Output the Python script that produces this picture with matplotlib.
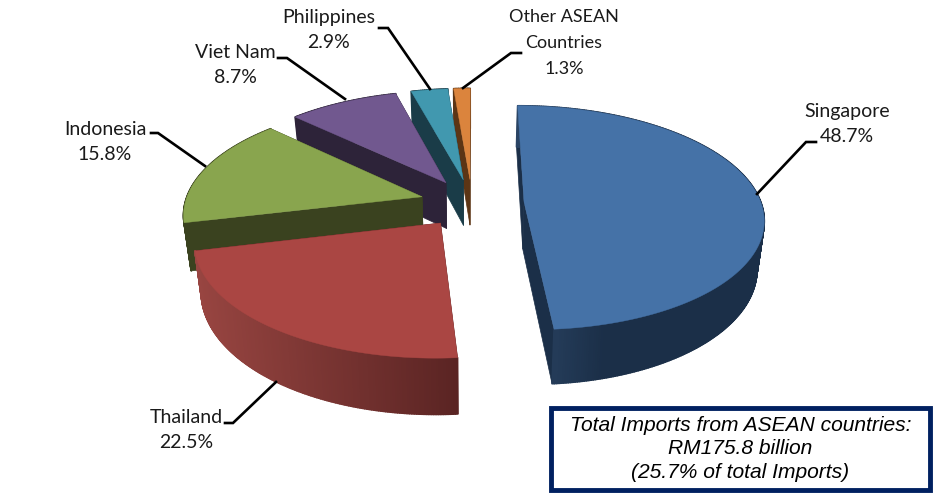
import numpy as np
import matplotlib
matplotlib.use('Agg')
import matplotlib.pyplot as plt
from matplotlib.colors import to_rgb
from matplotlib.patches import Rectangle

# data
countries = ['Singapore', 'Thailand', 'Indonesia', 'Viet Nam', 'Philippines', 'Other ASEAN\nCountries']
shares = [48.7, 22.5, 15.8, 8.7, 2.9, 1.3]

top_colors = ['#4572A7', '#AA4643', '#89A54E', '#71588F', '#4198AF', '#DB843D']
side_colors = ['#1B2F48', '#5A2423', '#3A421F', '#2D2339', '#1A3C48', '#5C3515']
lit_colors = ['#2B4565', '#984541', '#3A421F', '#2D2339', '#1A3C48', '#5C3515']
grad_span = [0.35, 1.0, 1.0, 1.0, 1.0, 1.0]

# projection of the pie plane onto the picture (pixels)
CX, CY = 472, 203
RX, RY = 237, 110
PERSP = 0.14
DEPTH = 47
TAPER = 0.025
EXPLODE = 0.22


def project(x, y, z=0.0):
    w = 1.0 / (1.0 + PERSP * np.asarray(y, dtype=float))
    return CX + RX * np.asarray(x) * w * (1 - TAPER * z), CY - (RY * np.asarray(y) - DEPTH * z) * w


def blend(c1, c2, t):
    c1, c2 = np.array(to_rgb(c1)), np.array(to_rgb(c2))
    return tuple(c1 + (c2 - c1) * t)


def draw_slice(ax, a0, a1, i):
    mid = np.radians((a0 + a1) / 2)
    ox, oy = EXPLODE * np.sin(mid), EXPLODE * np.cos(mid)
    th = np.radians(np.linspace(a0, a1, max(int(a1 - a0) * 2, 8)))
    xs, ys = ox + np.sin(th), oy + np.cos(th)

    tx, ty = project(xs, ys)
    bx, by = project(xs, ys, 1.0)
    ax0, ay0 = project(ox, oy)
    ax1, ay1 = project(ox, oy, 1.0)

    # cut faces
    ax.fill([ax0, tx[0], bx[0], ax1], [ay0, ty[0], by[0], ay1], color=side_colors[i], lw=0.5)
    ax.fill([ax0, tx[-1], bx[-1], ax1], [ay0, ty[-1], by[-1], ay1], color=side_colors[i], lw=0.5)

    # outer wall, shaded from left to right
    xmin, xmax = tx.min(), tx.max()
    for k in range(len(th) - 1):
        t = ((tx[k] + tx[k + 1]) / 2 - xmin) / (xmax - xmin)
        t = min(t / grad_span[i], 1.0)
        ax.fill([tx[k], tx[k + 1], bx[k + 1], bx[k]], [ty[k], ty[k + 1], by[k + 1], by[k]],
                color=blend(lit_colors[i], side_colors[i], t), lw=1.2, joinstyle='round')

    # top face
    ax.fill(np.r_[ax0, tx], np.r_[ay0, ty], color=top_colors[i], lw=0.3)


fig = plt.figure(figsize=(9.42, 5.03), dpi=100)
ax = fig.add_axes([0, 0, 1, 1])
ax.set_xlim(0, 942)
ax.set_ylim(503, 0)
ax.axis('off')

edges = np.r_[0, np.cumsum(shares)] * 360.0 / np.sum(shares)
for i in [5, 4, 3, 2, 1, 0]:
    draw_slice(ax, edges[i], edges[i + 1], i)

# leader lines
leaders = [
    [(757, 194), (806, 142), (816, 142)],
    [(276, 382), (233, 423), (225, 423)],
    [(205, 166), (158, 133), (151, 133)],
    [(345, 99), (287, 58), (278, 58)],
    [(430, 89), (388, 28), (379, 28)],
    [(463, 88), (511, 53), (521, 53)],
]
for pts in leaders:
    ax.plot(*zip(*pts), color='black', lw=1.9, solid_joinstyle='miter')

# labels
label_pos = [(847, 124), (186, 430), (105, 142), (235, 65), (329, 30), (564, 43)]
label_size = [14, 14, 14, 14, 14, 13]
for name, share, (lx, ly), fs in zip(countries, shares, label_pos, label_size):
    ax.text(lx, ly, f'{name}\n{share:.1f}%', ha='center', va='center', family='Lato',
            fontsize=fs, color='#1a1a1a', linespacing=1.6 if fs == 14 else 1.75)

# note box
ax.add_patch(Rectangle((551, 408), 379, 82, fc='white', ec='#002060', lw=3.5))
ax.text(740.5, 449, 'Total Imports from ASEAN countries:\nRM175.8 billion\n(25.7% of total Imports)',
        ha='center', va='center', family='Liberation Sans', style='italic',
        fontsize=15.1, color='black', linespacing=1.27)

fig.savefig('out.png', dpi=100)
